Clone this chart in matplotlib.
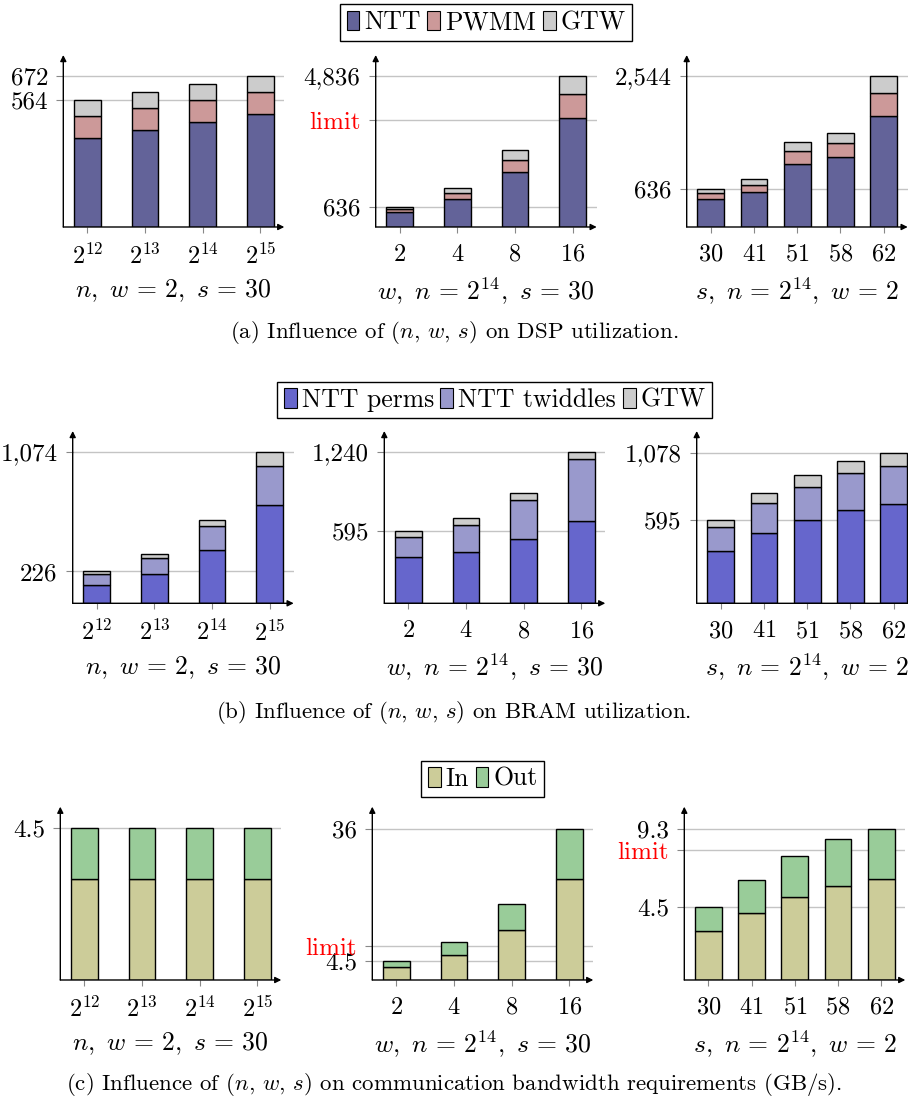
import numpy as np
import matplotlib
matplotlib.use("Agg")
import matplotlib.pyplot as plt
from matplotlib.patches import Patch

plt.rcParams['font.family'] = ['cmr10', 'DejaVu Serif']
plt.rcParams['mathtext.fontset'] = 'cm'
plt.rcParams['axes.unicode_minus'] = False
plt.rcParams['axes.formatter.use_mathtext'] = True

# ---------------- data ----------------
n_labels = [r'$2^{12}$', r'$2^{13}$', r'$2^{14}$', r'$2^{15}$']
w_labels = [r'$2$', r'$4$', r'$8$', r'$16$']
s_labels = [r'$30$', r'$41$', r'$51$', r'$58$', r'$62$']

# DSP utilization
dsp_n_ntt = [396, 432, 468, 504]
dsp_n_pwmm = [96, 96, 96, 96]
dsp_n_gtw = [72, 72, 72, 72]
dsp_w_ntt = [468, 893, 1765, 3487]
dsp_w_pwmm = [96, 181, 382, 777]
dsp_w_gtw = [72, 159, 298, 572]
dsp_s_ntt = [468, 588, 1058, 1175, 1869]
dsp_s_pwmm = [96, 117, 212, 235, 386]
dsp_s_gtw = [72, 95, 162, 179, 289]
dsp_limit = 3420

# BRAM utilization
bram_n_perms = [133, 211, 377, 696]
bram_n_twid = [78, 111, 170, 282]
bram_n_gtw = [15, 28, 48, 96]
bram_w_perms = [377, 418, 530, 675]
bram_w_twid = [170, 227, 317, 508]
bram_w_gtw = [48, 55, 57, 57]
bram_s_perms = [377, 504, 597, 669, 711]
bram_s_twid = [170, 217, 238, 264, 272]
bram_s_gtw = [48, 74, 86, 90, 95]

# Bandwidth (GB/s)
bw_n_in = [3.0, 3.0, 3.0, 3.0]
bw_n_out = [1.5, 1.5, 1.5, 1.5]
bw_w_in = [3.0, 6.0, 12.0, 24.0]
bw_w_out = [1.5, 3.0, 6.0, 12.0]
bw_s_in = [3.0, 4.1, 5.1, 5.8, 6.2]
bw_s_out = [1.5, 2.05, 2.55, 2.9, 3.1]
bw_limit = 8.0

# tick values / labels
a_ticks = [[564, 672], [636, dsp_limit, 4836], [636, 2544]]
a_tlabels = [['564', '672'], ['636', 'limit', '4,836'], ['636', '2,544']]
b_ticks = [[226, 1074], [595, 1240], [595, 1078]]
b_tlabels = [['226', '1,074'], ['595', '1,240'], ['595', '1,078']]
c_ticks = [[4.5], [4.5, bw_limit, 36], [4.5, bw_limit, 9.3]]
c_tlabels = [['4.5'], ['4.5', 'limit', '36'], ['4.5', 'limit', '9.3']]

xlabels = [r'$n,\ w\,=\,2,\ s\,=\,30$',
           r'$w,\ n\,=\,2^{14},\ s\,=\,30$',
           r'$s,\ n\,=\,2^{14},\ w\,=\,2$']

dsp_names = ['NTT', 'PWMM', 'GTW']
dsp_colors = ['#636399', '#cc9999', '#cccccc']
bram_names = ['NTT perms', 'NTT twiddles', 'GTW']
bram_colors = ['#6666cc', '#9999cc', '#cccccc']
bw_names = ['In', 'Out']
bw_colors = ['#cccc99', '#99cc99']

captions = [r'(a) Influence of ($n$, $w$, $s$) on DSP utilization.',
            r'(b) Influence of ($n$, $w$, $s$) on BRAM utilization.',
            r'(c) Influence of ($n$, $w$, $s$) on communication bandwidth requirements (GB/s).']

# ---------------- layout ----------------
W, H = 908, 1101
fig = plt.figure(figsize=(W / 100, H / 100), dpi=100)

AX_W = 221
rows = [
    dict(top=55, bot=227, lefts=[63.3, 375.7, 686.7], ylims=[764, 5496, 2893]),
    dict(top=431, bot=603.3, lefts=[72.7, 384.3, 696.7], ylims=[1224, 1413, 1237]),
    dict(top=806.7, bot=980, lefts=[60.3, 372.3, 684.3], ylims=[5.14, 41.25, 10.67]),
]


def make_axes(left, top, bot):
    return fig.add_axes([left / W, 1 - bot / H, AX_W / W, (bot - top) / H])


def panel(ax, labels, series, colors, ylim, yticks, ytlabels, xlabel, axh):
    n = len(labels)
    u = 173.0 / (n - 1)          # px per category
    m = 24.0 / u
    x = np.arange(n)
    bottom = np.zeros(n)
    for vals, c in zip(series, colors):
        vals = np.asarray(vals, dtype=float)
        ax.bar(x, vals, width=26.7 / u, bottom=bottom, color=c,
               edgecolor='black', linewidth=1.0, zorder=3)
        bottom += vals
    ax.set_xlim(-m, n - 1 + m)
    ax.set_ylim(0, ylim)
    ax.set_xticks(x)
    ax.set_xticklabels(labels)
    ax.set_yticks(yticks)
    ax.set_yticklabels(ytlabels)
    for t in ax.get_yticklabels():
        if t.get_text() == 'limit':
            t.set_color('red')
    ax.tick_params(axis='x', length=4, width=0.8, color='#888888', pad=8, labelsize=17.5)
    ax.tick_params(axis='y', length=5, width=0.8, color='#888888', pad=6, labelsize=18)
    ax.yaxis.grid(True, color='#c4c4c4', linewidth=1.0, zorder=0)
    ax.set_axisbelow(True)
    for sp in ax.spines.values():
        sp.set_visible(False)
    arrow = dict(arrowstyle='-|>', color='black', lw=1.0, shrinkA=0, shrinkB=0,
                 mutation_scale=9)
    ax.annotate('', xy=(0, 1), xytext=(0, 0), xycoords='axes fraction',
                arrowprops=arrow, zorder=5, annotation_clip=False)
    ax.annotate('', xy=(1, 0), xytext=(0, 0), xycoords='axes fraction',
                arrowprops=arrow, zorder=5, annotation_clip=False)
    ax.text(0.5, -64.0 / axh, xlabel, transform=ax.transAxes, ha='center',
            va='center', fontsize=18.5)


all_series = [
    [(n_labels, [dsp_n_ntt, dsp_n_pwmm, dsp_n_gtw]),
     (w_labels, [dsp_w_ntt, dsp_w_pwmm, dsp_w_gtw]),
     (s_labels, [dsp_s_ntt, dsp_s_pwmm, dsp_s_gtw])],
    [(n_labels, [bram_n_perms, bram_n_twid, bram_n_gtw]),
     (w_labels, [bram_w_perms, bram_w_twid, bram_w_gtw]),
     (s_labels, [bram_s_perms, bram_s_twid, bram_s_gtw])],
    [(n_labels, [bw_n_in, bw_n_out]),
     (w_labels, [bw_w_in, bw_w_out]),
     (s_labels, [bw_s_in, bw_s_out])],
]
row_colors = [dsp_colors, bram_colors, bw_colors]
row_names = [dsp_names, bram_names, bw_names]
row_ticks = [a_ticks, b_ticks, c_ticks]
row_tlabels = [a_tlabels, b_tlabels, c_tlabels]
legend_y = [22.5, 400, 779]
caption_y = [333, 712, 1084]

for r, row in enumerate(rows):
    axh = row['bot'] - row['top']
    for c in range(3):
        ax = make_axes(row['lefts'][c], row['top'], row['bot'])
        labels, series = all_series[r][c]
        panel(ax, labels, series, row_colors[r], row['ylims'][c],
              row_ticks[r][c], row_tlabels[r][c], xlabels[c], axh)
    cx = row['lefts'][1] + AX_W / 2
    handles = [Patch(facecolor=col, edgecolor='black', linewidth=0.8)
               for col in row_colors[r]]
    leg = fig.legend(handles, row_names[r], loc='center',
                     bbox_to_anchor=(cx / W, 1 - legend_y[r] / H),
                     ncol=len(handles), frameon=True, fancybox=False,
                     edgecolor='black', framealpha=1, fontsize=18.5,
                     handlelength=0.5, handleheight=0.8, handletextpad=0.2,
                     columnspacing=0.25, borderpad=0.25, borderaxespad=0)
    leg.get_frame().set_linewidth(1.0)
    fig.text(0.5, 1 - caption_y[r] / H, captions[r], ha='center', va='center',
             fontsize=16.5)

fig.savefig('out.png', dpi=100)
